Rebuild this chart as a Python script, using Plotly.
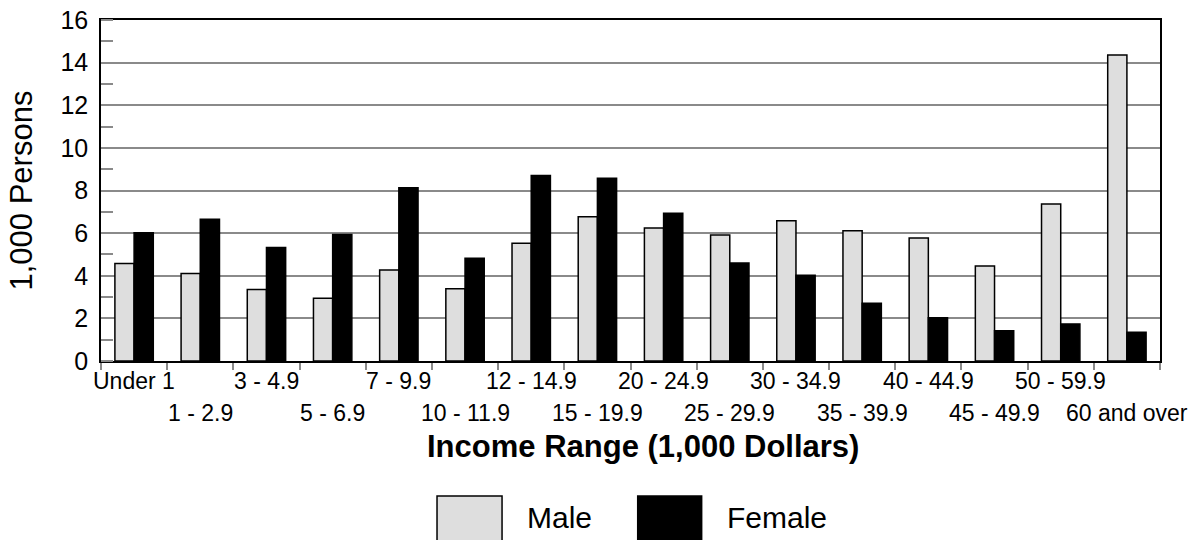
import plotly.graph_objects as go

categories = ["Under 1", "1 - 2.9", "3 - 4.9", "5 - 6.9", "7 - 9.9", "10 - 11.9",
              "12 - 14.9", "15 - 19.9", "20 - 24.9", "25 - 29.9", "30 - 34.9",
              "35 - 39.9", "40 - 44.9", "45 - 49.9", "50 - 59.9", "60 and over"]
male = [4.58, 4.11, 3.36, 2.94, 4.27, 3.39, 5.52, 6.77, 6.24, 5.91, 6.58,
        6.11, 5.77, 4.46, 7.37, 14.36]
female = [6.02, 6.65, 5.32, 5.94, 8.13, 4.82, 8.70, 8.57, 6.93, 4.60, 4.02,
          2.71, 2.03, 1.42, 1.74, 1.35]
series_names = ["Male", "Female"]
series_colors = ["#DEDEDE", "#000000"]
y_ticks = [0, 2, 4, 6, 8, 10, 12, 14, 16]

FONT = "Liberation Sans, Arial, sans-serif"
N = len(categories)

fig = go.Figure()
for name, vals, col in zip(series_names, [male, female], series_colors):
    fig.add_trace(go.Bar(
        x=categories, y=vals, name=name,
        marker=dict(color=col, line=dict(color="#000000", width=1.5)),
        showlegend=False,
    ))

# x tick labels in two staggered rows
annotations = []
for i, c in enumerate(categories):
    annotations.append(dict(
        x=c, xref="x", y=-0.060 if i % 2 == 0 else -0.152, yref="paper",
        text=c, showarrow=False, xanchor="center", yanchor="middle",
        font=dict(family=FONT, size=23, color="#000000"),
    ))

annotations.append(dict(
    x=0.512, xref="paper", y=-0.25, yref="paper",
    text="<b>Income Range (1,000 Dollars)</b>", showarrow=False,
    xanchor="center", yanchor="middle",
    font=dict(family=FONT, size=31, color="#000000"),
))
annotations.append(dict(
    x=-0.0746, xref="paper", y=0.5, yref="paper",
    text="1,000 Persons", showarrow=False, textangle=-90,
    xanchor="center", yanchor="middle",
    font=dict(family=FONT, size=31, color="#000000"),
))

# legend drawn manually
shapes = []
box_x = [(0.3173, 0.3787), (0.5068, 0.5672)]
text_x = [0.4004, 0.5892]
for (x0, x1), tx, name, col in zip(box_x, text_x, series_names, series_colors):
    shapes.append(dict(type="rect", xref="paper", yref="paper",
                       x0=x0, x1=x1, y0=-0.60, y1=-0.396,
                       fillcolor=col, line=dict(color="#000000", width=1.5)))
    annotations.append(dict(
        x=tx, xref="paper", y=-0.4575, yref="paper", text=name,
        showarrow=False, xanchor="left", yanchor="middle",
        font=dict(family=FONT, size=30, color="#000000"),
    ))

fig.update_layout(
    template="none",
    width=1201, height=540,
    margin=dict(l=101, r=41, t=20, b=179, autoexpand=False),
    paper_bgcolor="white", plot_bgcolor="white",
    barmode="group", bargap=0.42, bargroupgap=0,
    annotations=annotations, shapes=shapes,
    font=dict(family=FONT, color="#000000"),
    xaxis=dict(
        type="category", showticklabels=False, automargin=False,
        range=[-0.5, N - 0.5], autorange=False,
        tickson="boundaries", ticks="outside", ticklen=7,
        tickcolor="#8a8a8a", tickwidth=1.5,
        showline=True, linecolor="#000000", linewidth=1.5, mirror=True,
        showgrid=False, zeroline=False,
    ),
    xaxis2=dict(
        overlaying="x", anchor="y", side="bottom", automargin=False,
        range=[-0.5, N - 0.5], autorange=False,
        tickmode="linear", tick0=-0.5, dtick=1,
        ticks="inside", ticklen=9, tickcolor="#8a8a8a", tickwidth=1.5,
        showticklabels=False, showgrid=False, zeroline=False, showline=False,
    ),
    yaxis=dict(
        range=[0, 16], autorange=False, tickvals=y_ticks, ticks="",
        automargin=False,
        tickfont=dict(family=FONT, size=25, color="#000000"),
        showline=True, linecolor="#000000", linewidth=1.5, mirror=True,
        showgrid=True, gridcolor="#8a8a8a", gridwidth=1.5, zeroline=False,
        minor=dict(dtick=1, tick0=1, ticks="inside", ticklen=12,
                   tickcolor="#8a8a8a", tickwidth=1.5, showgrid=False),
        ticklabelstandoff=6,
    ),
)

# remove the default 8px page margin so the figure fills the window
fig.write_html(
    "out.html",
    config={"displayModeBar": False},
    post_script="document.body.style.margin='0';document.body.style.overflow='hidden';",
)
